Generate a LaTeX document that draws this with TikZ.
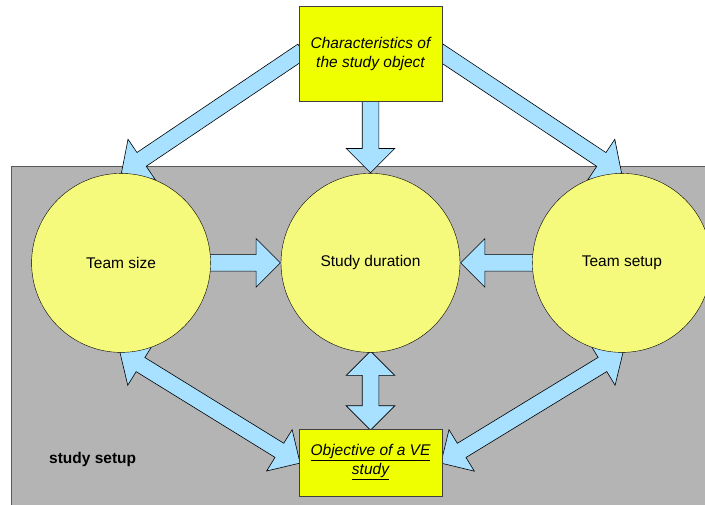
\documentclass[tikz,border=0pt]{standalone}
\usepackage{fontspec}
\setmainfont{Liberation Sans}
\usetikzlibrary{positioning,shapes.arrows,calc}

\definecolor{flowblue}{RGB}{168,224,255}
\definecolor{boxyellow}{RGB}{240,255,0}
\definecolor{bubbleyellow}{RGB}{245,250,125}
\definecolor{panelgray}{RGB}{180,180,180}

\pgfdeclarelayer{panel}
\pgfdeclarelayer{flows}
\pgfsetlayers{panel,flows,main}

% block arrow from one anchor to another
\newcommand{\blockarrow}[2]{%
  \path let \p1=(#1), \p2=(#2),
    \n1={atan2(\y2-\y1,\x2-\x1)}, \n2={veclen(\x2-\x1,\y2-\y1)} in
    node[single arrow, flow, anchor=tip, minimum height=\n2+4pt, rotate=\n1] at (#2) {};
}
% two-headed version
\newcommand{\twowayarrow}[2]{%
  \path let \p1=(#1), \p2=(#2),
    \n1={atan2(\y2-\y1,\x2-\x1)}, \n2={veclen(\x2-\x1,\y2-\y1)} in
    node[double arrow, flow, minimum height=\n2+3pt, rotate=\n1] at ($(#1)!0.5!(#2)$) {};
}

\begin{document}
\begin{tikzpicture}[
    x=1pt, y=-1pt,
    node distance=72pt,
    font=\fontsize{15.5}{19}\selectfont,
    ybox/.style={rectangle, draw=black!75, fill=boxyellow, minimum width=143pt, align=center, font=\fontsize{15.5}{19}\selectfont\itshape},
    bubble/.style={circle, draw, fill=bubbleyellow, minimum size=179pt, inner sep=0pt},
    flow/.style={draw, fill=flowblue, line width=0.6pt, inner sep=8pt, minimum width=48pt, single arrow head extend=16pt, double arrow head extend=16pt}
]
\clip (0,0) rectangle (705,505);

% Nodes
\node[ybox, minimum height=95pt] (char) at (370.5,53.5) {Characteristics of\\the study object};
\node[bubble, below=of char] (dur) {Study duration};
\node[bubble, left=70pt of dur] (size) {Team size};
\node[bubble, right=72pt of dur] (setup) {Team setup};
\node[ybox, minimum height=67pt, below=76pt of dur] (obj) {\underline{Objective of a VE}\\\underline{study}};
\node[anchor=west, inner sep=0pt, font=\fontsize{15.5}{19}\selectfont\bfseries] (label) at (49,459) {study setup};

% Study setup panel
\begin{pgfonlayer}{panel}
\draw[draw=black!65, fill=panelgray, line width=0.8pt] (11,166) rectangle (720,520);
\end{pgfonlayer}

% Arrows
\begin{pgfonlayer}{flows}
\blockarrow{char.south}{dur.north}
\blockarrow{char.west}{size.north}
\blockarrow{char.east}{setup.north}
\blockarrow{size.east}{dur.west}
\blockarrow{setup.west}{dur.east}
\twowayarrow{dur.south}{obj.north}
\twowayarrow{size.south}{obj.west}
\twowayarrow{setup.south}{obj.east}
\end{pgfonlayer}

\end{tikzpicture}
\end{document}
